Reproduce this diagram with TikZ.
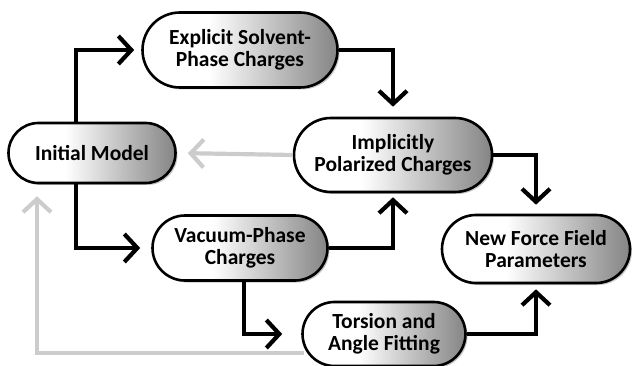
\documentclass[tikz,border=0pt]{standalone}
\usepackage{fontspec}
\setmainfont{Carlito}
\usetikzlibrary{shapes.misc}
\usetikzlibrary{positioning}
\usetikzlibrary{shadows}
\usetikzlibrary{arrows.meta}
\pgfdeclarehorizontalshading{stageshade}{100bp}{color(0bp)=(white); color(25bp)=(white);
  color(42bp)=(white); color(75bp)=(black!48); color(100bp)=(black!48)}
\tikzstyle{stage} = [rounded rectangle, draw=black, line width=2.6pt, shading=stageshade,
  drop shadow={shadow xshift=2pt, shadow yshift=-2pt, opacity=0.45},
  align=center, inner sep=1pt, font=\fontsize{21.5}{22.5}\selectfont\bfseries, on grid]
\tikzstyle{flow} = [line width=4.2pt, draw=black, -{Straight Barb[length=13pt,width=28pt]}]
\tikzstyle{back} = [flow, draw=black!20]

\begin{document}
\begin{tikzpicture}[x=1pt, y=-1pt]
  \useasboundingbox (0,0) rectangle (632,366);
  \node[stage, minimum width=169pt, minimum height=60pt] (init) at (92,153) {Initial Model};
  \node[stage, right=148pt of init, yshift=103pt, minimum width=197pt, minimum height=75pt] (expl) {Explicit Solvent-\\Phase Charges};
  \node[stage, right=301pt of init, yshift=-2pt, minimum width=200pt, minimum height=74pt] (impl) {Implicitly\\Polarized Charges};
  \node[stage, right=148pt of init, yshift=-95pt, minimum width=177pt, minimum height=65pt] (vac) {Vacuum-Phase\\Charges};
  \node[stage, right=292pt of init, yshift=-181pt, minimum width=165pt, minimum height=64pt] (tors) {Torsion and\\Angle Fitting};
  \node[stage, right=444pt of init, yshift=-96pt, minimum width=190pt, minimum height=68pt] (newff) {New Force Field\\Parameters};

  \draw[flow, shorten >=7pt] ([xshift=-16pt]init.north) |- (expl.west);
  \draw[flow, shorten >=10pt] (expl.east) -| (impl.north);
  \draw[flow, shorten >=9pt] (impl.east) -| (newff.north);
  \draw[flow, shorten >=11pt] ([xshift=-16pt]init.south) |- (vac.west);
  \draw[flow, shorten >=4pt] (vac.east) -| (impl.south);
  \draw[flow, shorten >=19pt] ([xshift=4pt]vac.south) |- (tors.west);
  \draw[flow, shorten >=5pt] (tors.east) -| (newff.south);
  \draw[back, shorten >=11pt] (impl.west) -- (init.east);
  \draw[back, shorten >=12pt] ([xshift=3pt, yshift=-19pt]tors.west) -| ([xshift=-55pt]init.south);
\end{tikzpicture}
\end{document}
